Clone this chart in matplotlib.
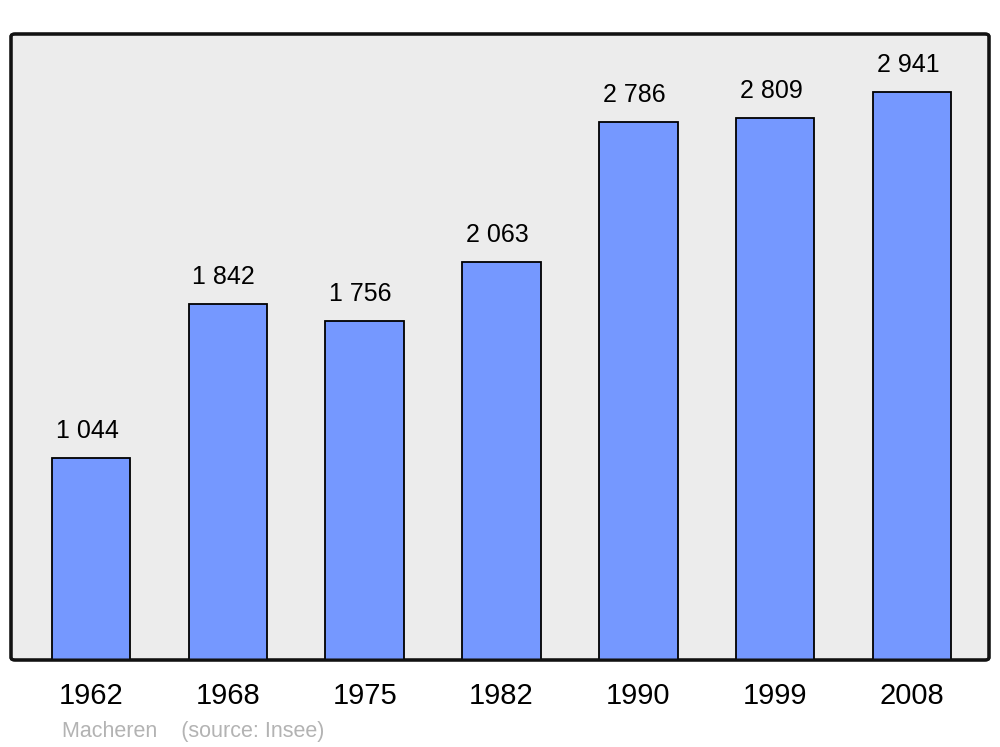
import numpy as np
import matplotlib.pyplot as plt
from matplotlib.patches import FancyBboxPatch

years = ['1962', '1968', '1975', '1982', '1990', '1999', '2008']
population = [1044, 1842, 1756, 2063, 2786, 2809, 2941]
labels = ['1 044', '1 842', '1 756', '2 063', '2 786', '2 809', '2 941']

plt.rcParams['font.family'] = ['Liberation Sans', 'DejaVu Sans']

fig = plt.figure(figsize=(10, 7.47), dpi=100)
ax = fig.add_axes([0.011, 1 - 660 / 747, 0.978, 626 / 747])
ax.set_facecolor('none')
for s in ax.spines.values():
    s.set_visible(False)

# rounded frame behind everything
frame = FancyBboxPatch((0, 0), 1, 1, boxstyle='round,pad=0,rounding_size=0.004',
                       transform=ax.transAxes, facecolor='#ececec',
                       edgecolor='#111111', linewidth=2.2, zorder=0, clip_on=False)
ax.add_patch(frame)

x = np.arange(len(years))
ax.bar(x, population, width=0.575, color='#7598ff', edgecolor='black',
       linewidth=1.3, zorder=2)

for xi, v, lab in zip(x, population, labels):
    ax.annotate(lab, (xi, v), xytext=(-4, 27), textcoords='offset pixels',
                ha='center', va='center', fontsize=18, color='black')

ax.set_xlim(-0.585, 6.563)
ax.set_ylim(0, 3242)
ax.set_xticks(x)
ax.set_xticklabels(years, fontsize=21)
ax.tick_params(axis='x', length=0, pad=16)
ax.set_yticks([])

# frame outline on top of bars
outline = FancyBboxPatch((0, 0), 1, 1, boxstyle='round,pad=0,rounding_size=0.004',
                         transform=ax.transAxes, facecolor='none',
                         edgecolor='#111111', linewidth=2.2, zorder=3, clip_on=False)
ax.add_patch(outline)

fig.text(0.062, 1 - 731 / 747, 'Macheren    (source: Insee)', fontsize=15.5,
         color='#b3b3b3', ha='left', va='center')

fig.savefig('out.png', dpi=100)
